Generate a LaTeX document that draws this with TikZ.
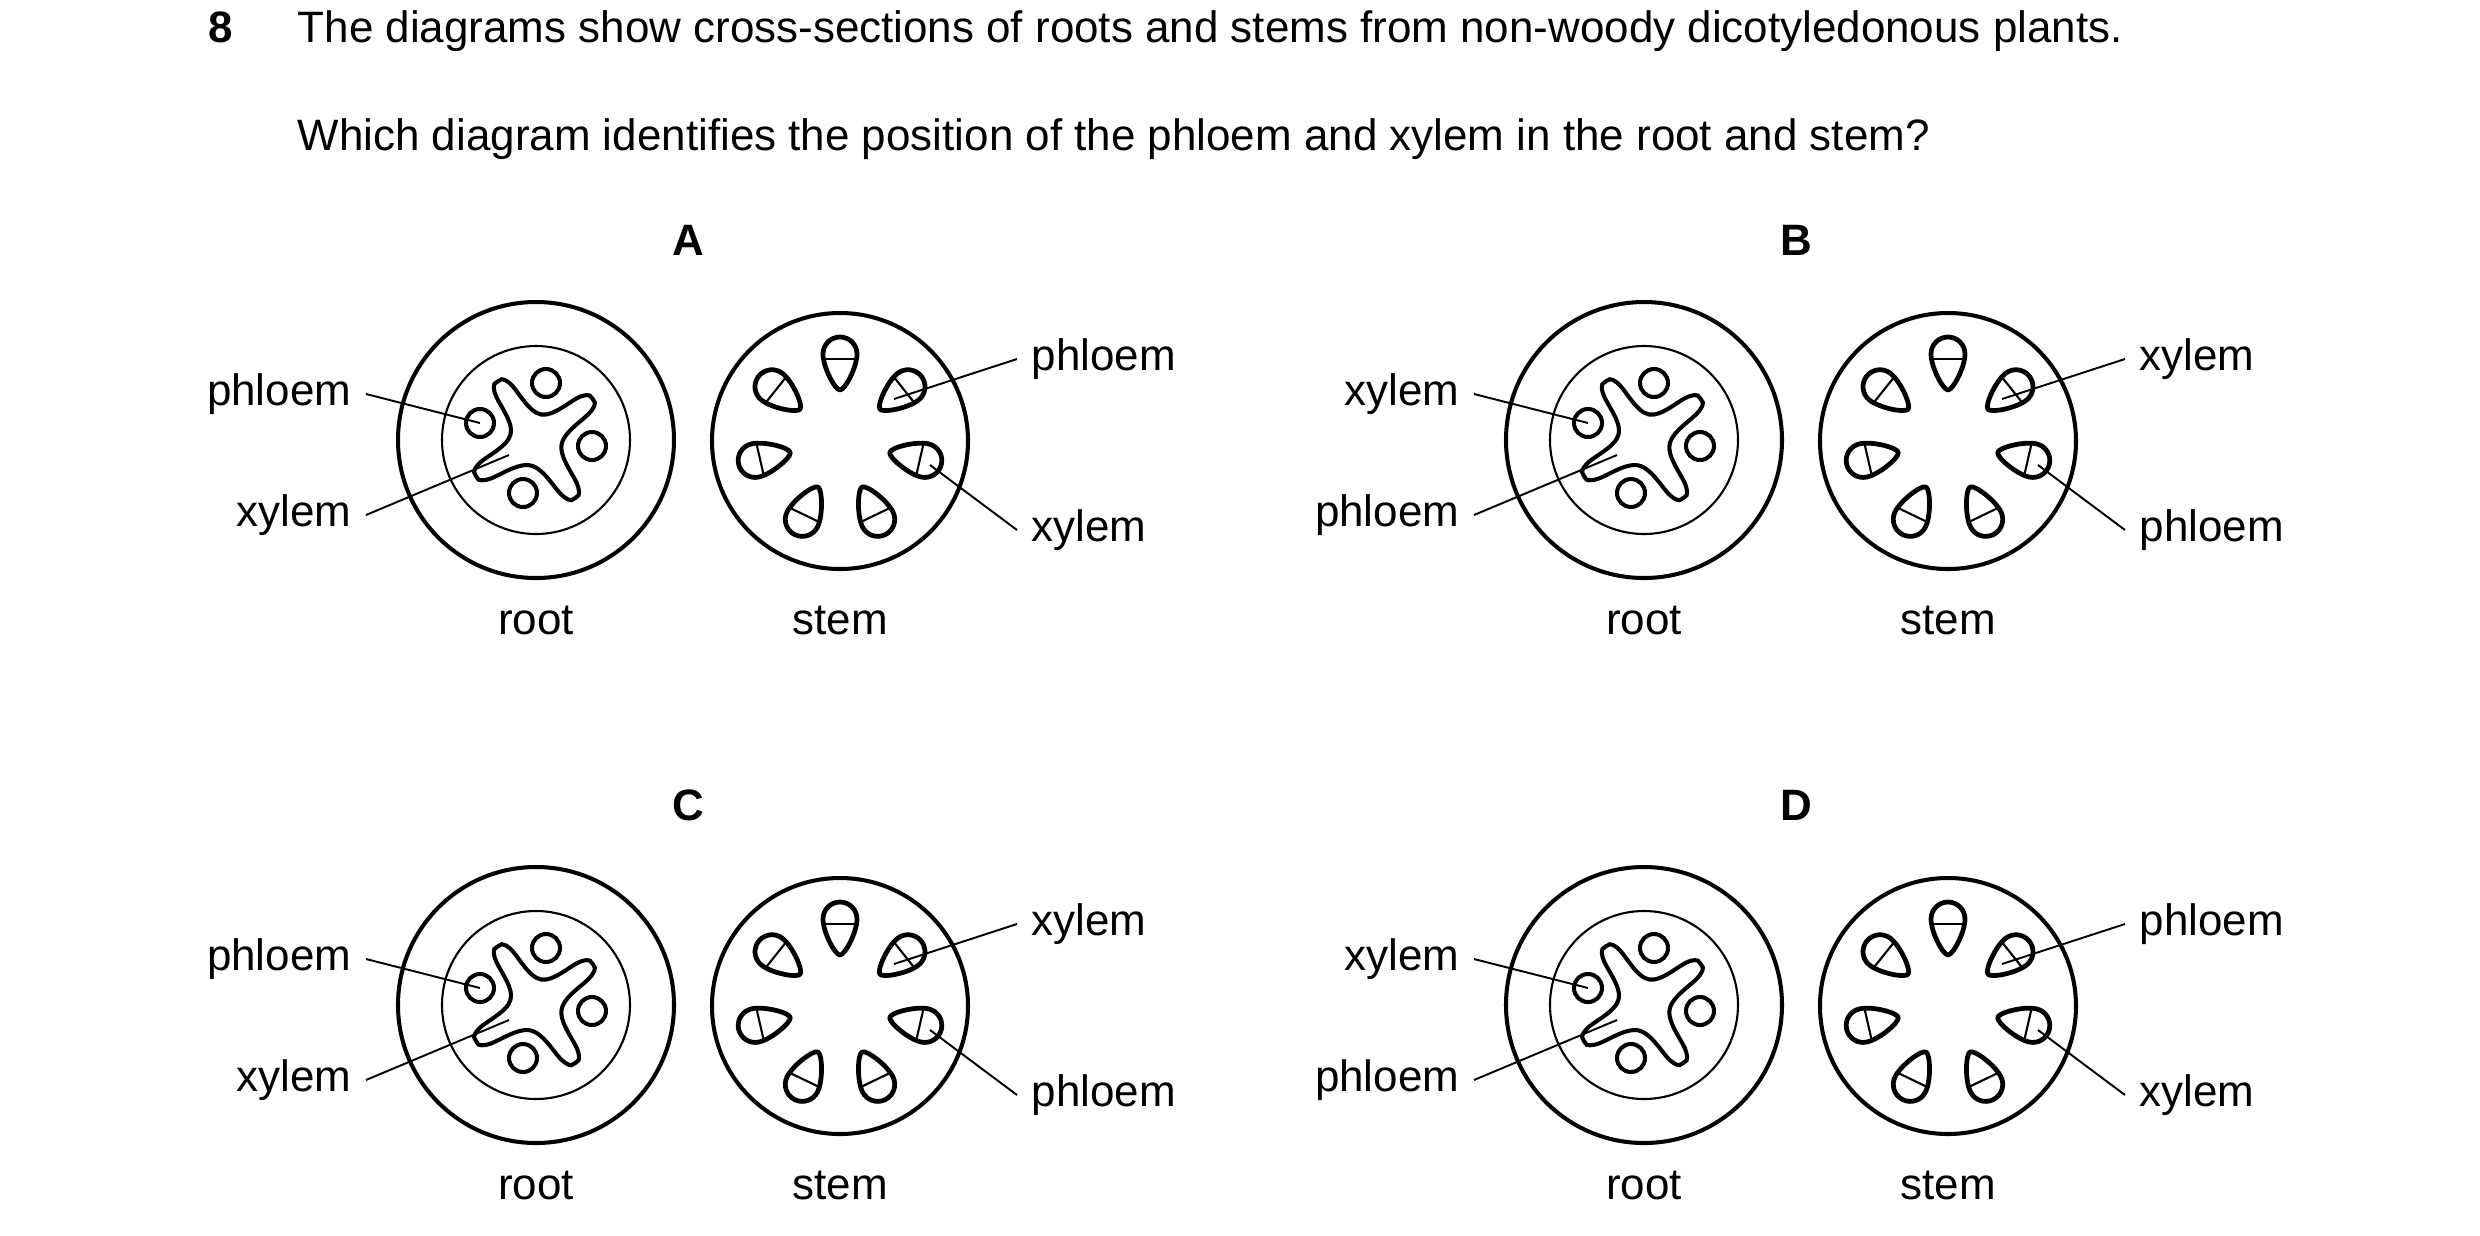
\documentclass[tikz,border=0pt]{standalone}
\usepackage{fontspec}
\setmainfont{Liberation Sans}
\begin{document}
\begin{tikzpicture}[x=0.01cm,y=0.01cm,
  txt/.style={font=\fontsize{12.5}{15}\selectfont,inner sep=0pt},
  lbl/.style={font=\fontsize{12.5}{15}\selectfont,inner sep=4},
  thick1/.style={line width=1.15pt},
  thin1/.style={line width=0.6pt},
  ptr/.style={line width=0.55pt},
  bund/.style={line width=1.35pt,line join=round}]
\useasboundingbox (0,0) rectangle (2480,-1235);
\node[txt,anchor=base west,font=\fontsize{12.5}{15}\selectfont\bfseries] (qn) at (208,-42) {8};
\node[txt,anchor=base west] (q1) at (297,-42) {The diagrams show cross-sections of roots and stems from non-woody dicotyledonous plants.};
\node[txt,anchor=base west] (q2) at (297,-150) {Which diagram identifies the position of the phloem and xylem in the root and stem?};
\foreach \dx/\dy/\L/\ra/\rb/\sa/\sb in {0/0/A/phloem/xylem/phloem/xylem,1108/0/B/xylem/phloem/xylem/phloem,0/-565/C/phloem/xylem/xylem/phloem,1108/-565/D/xylem/phloem/phloem/xylem}{
\begin{scope}[shift={(\dx,\dy)}]
 \node[txt,font=\fontsize{12.5}{15}\selectfont\bfseries] (let\L) at (688,-240) {\L};
 % root
 \begin{scope}[shift={(536,-440)}]
  \node[draw,circle,thick1,minimum size=276*0.01cm,inner sep=0] (root\L) at (0,0) {};
  \draw[thin1] (0,0) circle[radius=94];
  \draw[thick1] plot[smooth cycle,tension=0.65] coordinates {
   (-149:70) (-141:63) (-102:26) (-64:63) (-56:70) (-48:63) (-10:26) (28:63) (36:70) (44:63) (79:26) (115:63) (123:70) (131:63) (167:26) (-157:63)};
  \foreach \p in {(10,57),(56,-6),(-13,-53),(-56,17)} \draw[thick1] \p circle[radius=14];
  \coordinate (rt1\L) at (-56,17);
  \coordinate (rt2\L) at (-27,-15);
  \node[lbl,anchor=east] (rl1\L) at (-170,46) {\ra};
  \node[lbl,anchor=east] (rl2\L) at (-170,-75) {\rb};
  \draw[ptr] (rl1\L.east) -- (rt1\L);
  \draw[ptr] (rl2\L.east) -- (rt2\L);
  \node[txt] (rootlbl\L) at (0,-180) {root};
 \end{scope}
 % stem
 \begin{scope}[shift={(840,-441)}]
  \node[draw,circle,thick1,minimum size=256*0.01cm,inner sep=0] (stem\L) at (0,0) {};
  \foreach \a in {90,38.6,-12.9,-64.3,-115.7,-167.1,141.4}{
   \begin{scope}[shift={(\a:78)},rotate=\a-90]
    \draw[bund] (0,-27) .. controls (-5,-27) and (-17,-4) .. (-17,9) arc[start angle=180,end angle=0,radius=17] .. controls (17,-4) and (5,-27) .. cycle;
    \draw[thin1] (-16.3,4) -- (16.3,4);
   \end{scope}}
  \coordinate (st1\L) at (54,42);
  \coordinate (st2\L) at (90,-24);
  \node[lbl,anchor=west] (sl1\L) at (177,82) {\sa};
  \node[lbl,anchor=west] (sl2\L) at (177,-89) {\sb};
  \draw[ptr] (sl1\L.west) -- (st1\L);
  \draw[ptr] (sl2\L.west) -- (st2\L);
  \node[txt] (stemlbl\L) at (0,-179) {stem};
 \end{scope}
\end{scope}}
\end{tikzpicture}
\end{document}
